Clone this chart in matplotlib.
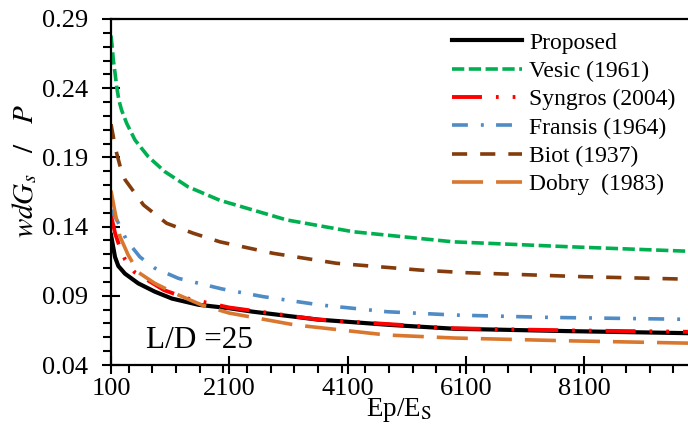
import numpy as np
import matplotlib.pyplot as plt
from matplotlib.ticker import MultipleLocator

plt.rcParams['font.family'] = ['Liberation Serif', 'DejaVu Serif']
plt.rcParams['mathtext.fontset'] = 'stix'

# valores (L/D = 25)
x_proposed = [100, 134, 168, 224, 336, 560, 840, 1130, 1580, 2100, 2500, 3600, 4800, 5900, 7800, 9850]
y_proposed = [0.134, 0.126, 0.118, 0.1115, 0.106, 0.099, 0.093, 0.088, 0.0835, 0.081, 0.0785, 0.0728, 0.069, 0.0662, 0.0645, 0.063]

x_vesic = [100, 122, 140, 168, 196, 235, 280, 365, 505, 730, 1010, 1400, 1940, 3070, 4190, 5880, 7800, 9850]
y_vesic = [0.278, 0.269, 0.260, 0.251, 0.241, 0.231, 0.224, 0.2146, 0.2026, 0.1905, 0.1797, 0.1688, 0.159, 0.1448, 0.1363, 0.129, 0.1255, 0.1222]

x_syngros = [100, 139, 170, 250, 340, 500, 1000, 1400, 2100, 3600, 5900, 7800, 9850]
y_syngros = [0.148, 0.141, 0.135, 0.125, 0.116, 0.107, 0.094, 0.088, 0.0815, 0.0728, 0.0665, 0.065, 0.064]

x_fransis = [100, 200, 365, 590, 840, 1240, 1970, 2670, 3630, 4760, 5900, 7500, 9850]
y_fransis = [0.152, 0.1448, 0.130, 0.118, 0.110, 0.1026, 0.095, 0.0894, 0.0834, 0.0785, 0.0761, 0.0744, 0.073]

x_biot = [100, 156, 196, 264, 340, 650, 1040, 1490, 1940, 2840, 3910, 5320, 6100, 8080, 9850]
y_biot = [0.214, 0.201, 0.193, 0.182, 0.1737, 0.1556, 0.1424, 0.1352, 0.129, 0.1207, 0.1135, 0.1086, 0.1067, 0.1038, 0.102]

x_dobry = [100, 170, 250, 390, 560, 840, 1240, 1630, 2100, 3200, 4750, 5900, 7800, 9850]
y_dobry = [0.166, 0.150, 0.133, 0.1195, 0.107, 0.099, 0.0906, 0.0834, 0.0775, 0.069, 0.0617, 0.0595, 0.0575, 0.0558]

x_ticks = [100, 2100, 4100, 6100, 8100]
y_ticks = [0.04, 0.09, 0.14, 0.19, 0.24, 0.29]

fig = plt.figure(figsize=(6.88, 4.30), dpi=100)
ax = fig.add_axes([111/688, 1 - 365/430, 1 - 111/688, (365 - 19)/430])

ax.plot(x_proposed, y_proposed, color='black', lw=3.0, label='Proposed')
ax.plot(x_vesic, y_vesic, color='#00B050', lw=2.6, dashes=(3.4, 1.25), label='Vesic (1961)')
ax.plot(x_syngros, y_syngros, color='#FF0000', lw=2.8, dashes=(7.7, 3.6, 0.7, 3.6, 0.7, 3.6), label='Syngros (2004)')
ax.plot(x_fransis, y_fransis, color='#4F8BC4', lw=2.6, dashes=(4.4, 3.6, 0.8, 3.4), label='Fransis (1964)')
ax.plot(x_biot, y_biot, color='#843C0C', lw=2.6, dashes=(4.2, 3.6), label='Biot (1937)')
ax.plot(x_dobry, y_dobry, color='#D9772F', lw=2.6, dashes=(8.6, 3.6), label='Dobry  (1983)')

ax.set_xlim(100, 9850)
ax.set_ylim(0.04, 0.29)
ax.set_xticks(x_ticks)
ax.set_yticks(y_ticks)
ax.set_yticklabels([f'{v:.2f}' for v in y_ticks])
ax.xaxis.set_minor_locator(MultipleLocator(400))
ax.yaxis.set_minor_locator(MultipleLocator(0.01))
ax.tick_params(which='major', direction='inout', length=13, width=1.5, labelsize=19)
ax.tick_params(which='minor', direction='out', length=6, width=1.5)
ax.tick_params(axis='x', which='major', pad=3)
ax.tick_params(axis='y', which='major', pad=10)

for s in ['left', 'bottom', 'top']:
    ax.spines[s].set_linewidth(1.6)
ax.spines['right'].set_visible(False)

ax.set_ylabel(r'$wdG_s\ \ \ /\ \ \ P$', fontsize=21)
ax.yaxis.set_label_coords(-0.125, 0.56)
ax.set_xlabel(r'Ep/E$_\mathrm{S}$', fontsize=19.5)
ax.xaxis.set_label_coords(0.5, -0.09)

ax.text(0.06, 0.05, 'L/D =25', transform=ax.transAxes, fontsize=22.5, va='baseline')

ax.legend(loc='upper left', bbox_to_anchor=(452/688, 1 - 32/430), bbox_transform=fig.transFigure,
          frameon=False, fontsize=17, handlelength=2.97, handletextpad=0.3,
          labelspacing=0.29, borderpad=0, borderaxespad=0)

fig.savefig('out.png', dpi=100)
